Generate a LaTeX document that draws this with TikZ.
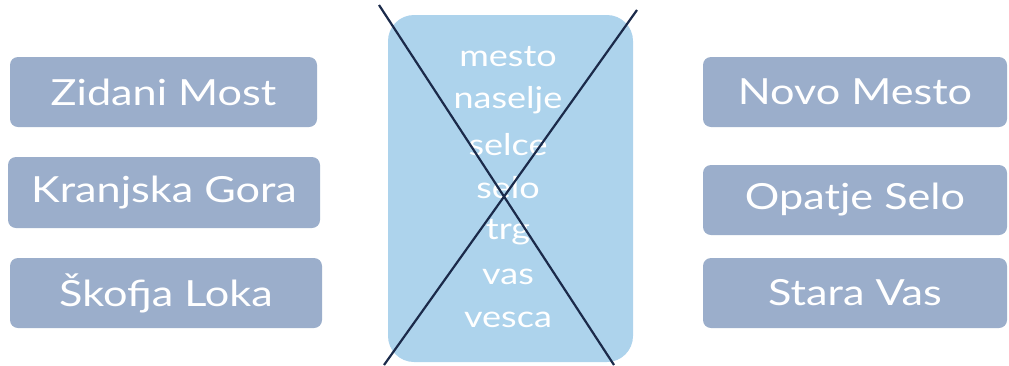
\documentclass[tikz,border=0pt]{standalone}
\usepackage{fontspec}
\setmainfont[FakeStretch=1.2]{Lato}
\definecolor{sidebox}{HTML}{9BAECB}
\definecolor{midbox}{HTML}{ADD3EC}
\definecolor{crossline}{HTML}{1B2A4A}
\begin{document}
\begin{tikzpicture}[x=1pt,y=-1pt,
  place/.style={fill=sidebox, rounded corners=8pt, text=white, font=\fontsize{36}{42}\selectfont, inner sep=0pt},
  word/.style={text=white, font=\fontsize{30}{36}\selectfont, inner sep=0pt},
  xline/.style={draw=crossline, line width=2.2pt}]
\useasboundingbox (0,0) rectangle (1009,365);
% left
\node[place, minimum width=307, minimum height=70] (zm) at (163.5,92) {Zidani Most};
\node[place, minimum width=312, minimum height=71] (kg) at (164,192.5) {Kranjska Gora};
\node[place, minimum width=312, minimum height=70] (sl) at (166,293) {Škofja Loka};
% right
\node[place, minimum width=304, minimum height=70] (nm) at (855,92) {Novo Mesto};
\node[place, minimum width=304, minimum height=70] (os) at (855,200) {Opatje Selo};
\node[place, minimum width=304, minimum height=70] (sv) at (855,293) {Stara Vas};
% middle
\node[fill=midbox, rounded corners=26pt, minimum width=245, minimum height=347, inner sep=0pt] (mid) at (510.5,188.5) {};
\foreach \w/\y [count=\i] in {mesto/57,naselje/100,selce/145,selo/188,trg/232,vas/277,vesca/320}
  \node[word] (w\i) at (508,\y) {\w};
\coordinate (a1) at (379,5);
\coordinate (a2) at (614,365);
\coordinate (b1) at (637,10);
\coordinate (b2) at (384,365);
\draw[xline] (a1) -- (a2);
\draw[xline] (b1) -- (b2);
\end{tikzpicture}
\end{document}
